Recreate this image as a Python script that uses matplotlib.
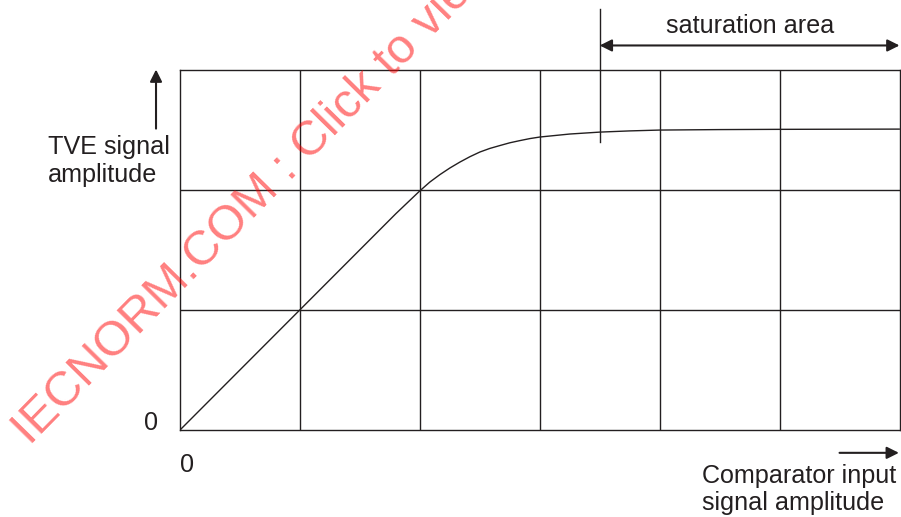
import matplotlib
matplotlib.use("Agg")
import matplotlib.pyplot as plt

plt.rcParams['font.family'] = ['Liberation Sans', 'DejaVu Sans']

# Data (grid units: x 0..6 columns, y 0..3 rows)
input_amp = [0.0, 0.5, 1.0, 1.5, 1.8, 2.0, 2.083, 2.167, 2.25, 2.333, 2.417,
             2.5, 2.583, 2.667, 2.75, 2.833, 2.917, 3.0, 3.25, 3.5, 3.75, 4.0, 4.5, 5.0, 6.0]
tve_amp = [0.0, 0.5, 1.0, 1.5, 1.8, 1.99, 2.063, 2.125, 2.18, 2.229, 2.274,
           2.313, 2.343, 2.367, 2.39, 2.408, 2.425, 2.438, 2.463, 2.479, 2.489, 2.496, 2.5, 2.502, 2.504]
x_grid = [0, 1, 2, 3, 4, 5, 6]
y_grid = [0, 1, 2, 3]
sat_start = 3.5
sat_end = 6.0

W, H = 901, 517
fig = plt.figure(figsize=(W / 100, H / 100), dpi=100)
L, R, T, B = 180, 899.5, 69.5, 430
ax = fig.add_axes([L / W, 1 - B / H, (R - L) / W, (B - T) / H])
ax.set_xlim(x_grid[0], x_grid[-1])
ax.set_ylim(y_grid[0], y_grid[-1])
ax.set_xticks([])
ax.set_yticks([])
for s in ax.spines.values():
    s.set_linewidth(1.0)
    s.set_color('#231f20')
for xv in x_grid[1:-1]:
    ax.axvline(xv, color='#231f20', lw=1.0)
for yv in y_grid[1:-1]:
    ax.axhline(yv, color='#231f20', lw=1.0)

ax.plot(input_amp, tve_amp, color='#231f20', lw=1.0, solid_capstyle='round')

# saturation marker line and double arrow
ax.plot([sat_start, sat_start], [2.4, 3.5], color='#231f20', lw=1.0, clip_on=False)
ax.annotate('', xy=(sat_end, 3.2), xytext=(sat_start, 3.2),
            arrowprops=dict(arrowstyle='<|-|>', color='#231f20', lw=1.5,
                            mutation_scale=18, shrinkA=0, shrinkB=0),
            annotation_clip=False)

def px(x, y):
    return x / W, 1 - y / H

fs = 18.1
fig.text(*px(750.5, 33), 'saturation area', ha='center', va='baseline', fontsize=fs, color='#231f20')

# y axis arrow
ax.annotate('', xy=(-0.2, 3.0), xytext=(-0.2, 2.508),
            arrowprops=dict(arrowstyle='-|>', color='#231f20', lw=1.5,
                            mutation_scale=18, shrinkA=0, shrinkB=0),
            annotation_clip=False)
fig.text(*px(48, 154), 'TVE signal', ha='left', va='baseline', fontsize=fs, color='#231f20')
fig.text(*px(48, 182), 'amplitude', ha='left', va='baseline', fontsize=fs, color='#231f20')
fig.text(*px(158, 430), '0', ha='right', va='baseline', fontsize=fs, color='#231f20')
fig.text(*px(180, 472), '0', ha='left', va='baseline', fontsize=fs, color='#231f20')

# x axis arrow
ax.annotate('', xy=(5.995, -0.19), xytext=(5.5, -0.19),
            arrowprops=dict(arrowstyle='-|>', color='#231f20', lw=1.5,
                            mutation_scale=18, shrinkA=0, shrinkB=0),
            annotation_clip=False)
fig.text(*px(702, 483), 'Comparator input', ha='left', va='baseline', fontsize=fs, color='#231f20')
fig.text(*px(702, 510), 'signal amplitude', ha='left', va='baseline', fontsize=fs, color='#231f20')

# watermark
fig.text(*px(30, 446), 'IECNORM.COM : Click to view', ha='left', va='baseline',
         rotation=45.5, rotation_mode='anchor', fontsize=35, color='#ff0000', alpha=0.5)

fig.savefig('out.png', dpi=100)
